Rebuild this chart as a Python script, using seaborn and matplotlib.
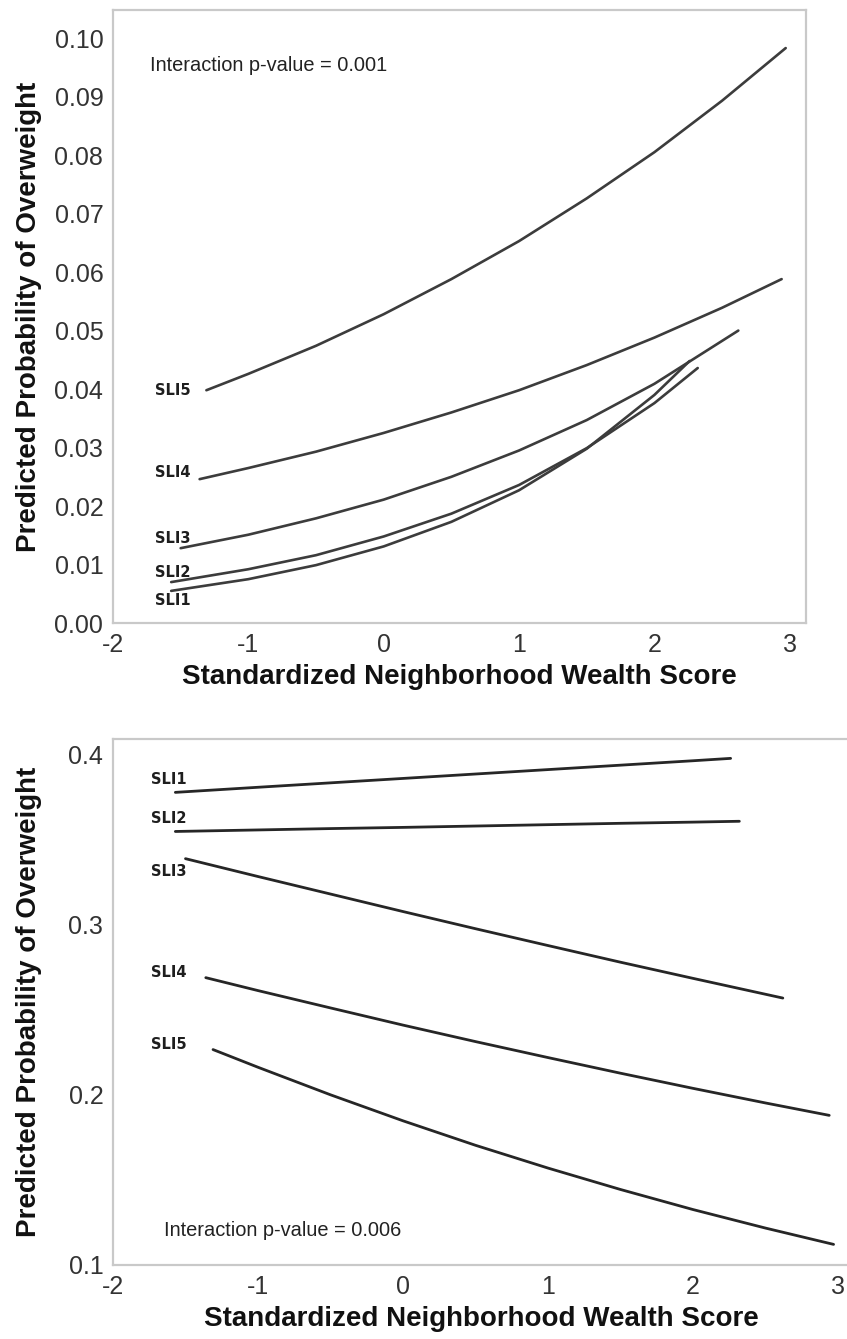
import matplotlib
matplotlib.use("Agg")
import matplotlib.pyplot as plt
import pandas as pd
import seaborn as sns
from matplotlib.ticker import FormatStrFormatter

sns.set_theme(style="white")
plt.rcParams["font.family"] = ["Liberation Sans", "DejaVu Sans"]
plt.rcParams["axes.unicode_minus"] = False

groups = ["SLI1", "SLI2", "SLI3", "SLI4", "SLI5"]

# Standardized neighborhood wealth score at which each curve was read
sli1_x = [-1.57, -1.0, -0.5, 0.0, 0.5, 1.0, 1.5, 2.0, 2.26]
sli2_x = [-1.57, -1.0, -0.5, 0.0, 0.5, 1.0, 1.5, 2.0, 2.32]
sli3_x = [-1.50, -1.0, -0.5, 0.0, 0.5, 1.0, 1.5, 2.0, 2.62]
sli4_x = [-1.36, -1.0, -0.5, 0.0, 0.5, 1.0, 1.5, 2.0, 2.5, 2.94]
sli5_x = [-1.31, -1.0, -0.5, 0.0, 0.5, 1.0, 1.5, 2.0, 2.5, 2.97]

# Upper panel: predicted probability of overweight
upper_sli1 = [0.0055, 0.0075, 0.0099, 0.0131, 0.0173, 0.0227, 0.0298, 0.0390, 0.0448]
upper_sli2 = [0.0070, 0.0092, 0.0116, 0.0148, 0.0187, 0.0236, 0.0299, 0.0376, 0.0436]
upper_sli3 = [0.0128, 0.0151, 0.0179, 0.0211, 0.0250, 0.0295, 0.0347, 0.0409, 0.0500]
upper_sli4 = [0.0246, 0.0265, 0.0293, 0.0325, 0.0360, 0.0398, 0.0441, 0.0488, 0.0539, 0.0588]
upper_sli5 = [0.0398, 0.0426, 0.0474, 0.0528, 0.0588, 0.0653, 0.0726, 0.0805, 0.0893, 0.0983]

# Lower panel: predicted probability of overweight
lower_sli1 = [0.378, 0.3810, 0.3836, 0.3862, 0.3888, 0.3914, 0.3940, 0.3966, 0.398]
lower_sli2 = [0.355, 0.3559, 0.3567, 0.3574, 0.3582, 0.3590, 0.3598, 0.3605, 0.361]
lower_sli3 = [0.339, 0.3285, 0.3182, 0.3079, 0.2978, 0.2879, 0.2781, 0.2686, 0.257]
lower_sli4 = [0.269, 0.2614, 0.2512, 0.2411, 0.2314, 0.2220, 0.2128, 0.2039, 0.1953, 0.188]
lower_sli5 = [0.2267, 0.2163, 0.2001, 0.1848, 0.1704, 0.1570, 0.1444, 0.1326, 0.1217, 0.1121]

xs = [sli1_x, sli2_x, sli3_x, sli4_x, sli5_x]


def long_table(series):
    rows = []
    for g, x, y in zip(groups, xs, series):
        for xi, yi in zip(x, y):
            rows.append((g, xi, yi))
    return pd.DataFrame(rows, columns=["group", "wealth", "prob"])


upper = long_table([upper_sli1, upper_sli2, upper_sli3, upper_sli4, upper_sli5])
lower = long_table([lower_sli1, lower_sli2, lower_sli3, lower_sli4, lower_sli5])

fig = plt.figure(figsize=(8.47, 13.39), dpi=100)
ax1 = fig.add_axes([0.1334, 0.5347, 0.8182, 0.4578])
ax2 = fig.add_axes([0.1334, 0.0553, 0.8701, 0.3928])

spine_col = "#c9c9c9"


def style(ax, ylab_x):
    for s in ax.spines.values():
        s.set_color(spine_col)
        s.set_linewidth(1.6)
    ax.tick_params(axis="both", which="major", length=4, width=1.2,
                   color="#bdbdbd", labelcolor="#333333", labelsize=18,
                   direction="out", pad=3)
    ax.set_xlabel("Standardized Neighborhood Wealth Score", fontsize=20,
                  fontweight="bold", color="#111111", labelpad=5)
    ax.set_ylabel("Predicted Probability of Overweight", fontsize=20,
                  fontweight="bold", color="#111111")
    ax.yaxis.set_label_coords(ylab_x, 0.5)


sns.lineplot(data=upper, x="wealth", y="prob", hue="group", palette=["#3c3c3c"] * 5,
             estimator=None, sort=False, legend=False, linewidth=1.9, ax=ax1)
sns.lineplot(data=lower, x="wealth", y="prob", hue="group", palette=["#262626"] * 5,
             estimator=None, sort=False, legend=False, linewidth=2.0, ax=ax2)

ax1.set_xlim(-2, 3.12)
ax1.set_ylim(0, 0.1048)
ax1.set_xticks([-2, -1, 0, 1, 2, 3])
ax1.set_yticks([0.00, 0.01, 0.02, 0.03, 0.04, 0.05, 0.06, 0.07, 0.08, 0.09, 0.10])
ax1.yaxis.set_major_formatter(FormatStrFormatter("%.2f"))

ax2.set_xlim(-2, 3.083)
ax2.set_ylim(0.1, 0.4094)
ax2.set_xticks([-2, -1, 0, 1, 2, 3])
ax2.set_yticks([0.1, 0.2, 0.3, 0.4])
ax2.yaxis.set_major_formatter(FormatStrFormatter("%.1f"))

style(ax1, (42 - 113) / 693)
style(ax2, (42 - 113) / 737)

# Group labels set just left of where each curve begins
upper_label_dy = [-10, 10, 10, 7, 0]
lower_label_dy = [13, 13, -13, 5, 5]
for g, y, dy in zip(groups, [upper_sli1, upper_sli2, upper_sli3, upper_sli4, upper_sli5],
                    upper_label_dy):
    ax1.annotate(g, xy=(-1.69, y[0]), xycoords="data", xytext=(0, dy),
                 textcoords="offset pixels", ha="left", va="center",
                 fontsize=10.5, fontweight="bold", family="DejaVu Sans", color="#1e1e1e")
for g, y, dy in zip(groups, [lower_sli1, lower_sli2, lower_sli3, lower_sli4, lower_sli5],
                    lower_label_dy):
    ax2.annotate(g, xy=(-1.738, y[0]), xycoords="data", xytext=(0, dy),
                 textcoords="offset pixels", ha="left", va="center",
                 fontsize=10.5, fontweight="bold", family="DejaVu Sans", color="#1e1e1e")

ax1.text(0.053, 0.910, "Interaction p-value = 0.001", transform=ax1.transAxes,
         fontsize=14.4, color="#222222", ha="left", va="center")
ax2.text(0.069, 0.065, "Interaction p-value = 0.006", transform=ax2.transAxes,
         fontsize=14.4, color="#222222", ha="left", va="center")

fig.savefig("out.png", dpi=100)
